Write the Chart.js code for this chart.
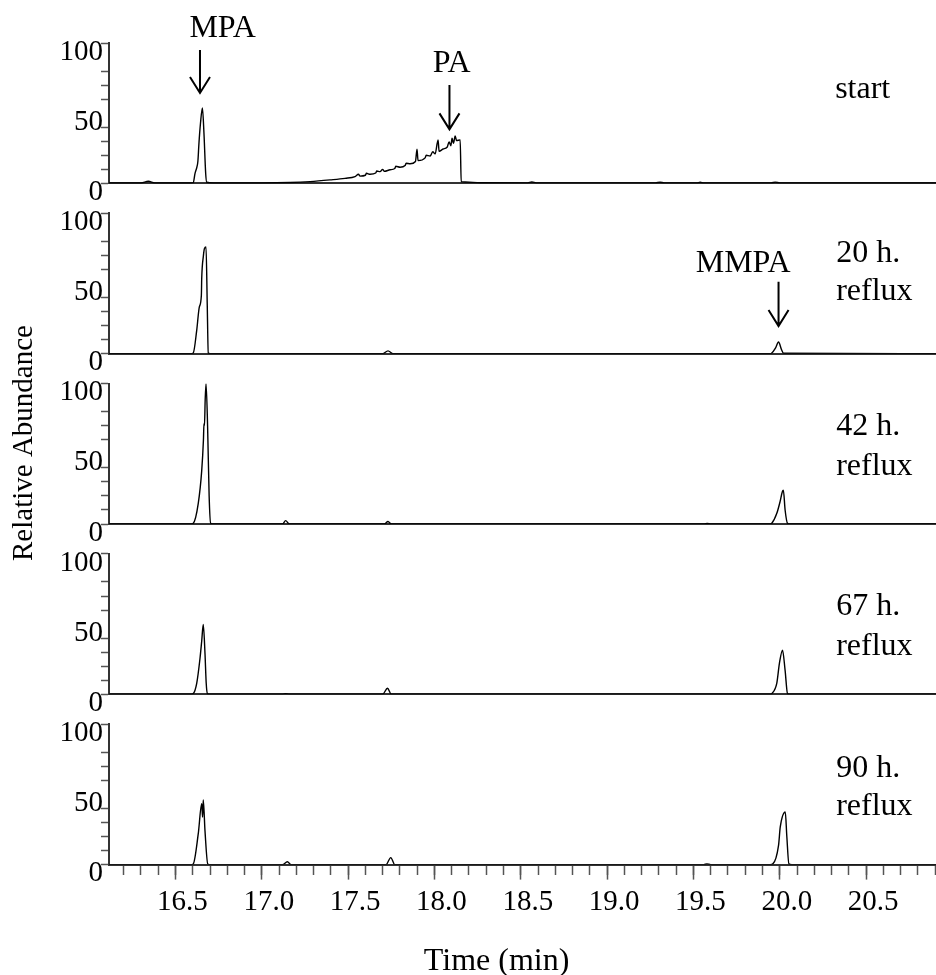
<!DOCTYPE html>
<html lang="en">
<head>
  <meta charset="UTF-8" />
  <title>Chromatograms during reflux</title>
  <script src="https://cdn.jsdelivr.net/npm/chart.js"></script>
  <style>
    body { margin: 0; background: #fff; }
    #wrap { position: relative; width: 936px; height: 975px; }
    #wrap canvas { position: absolute; left: 0; top: 0; }
  </style>
</head>
<body>
  <div id="wrap">
    <canvas id="c0" width="936" height="975"></canvas>
    <canvas id="c1" width="936" height="975"></canvas>
    <canvas id="c2" width="936" height="975"></canvas>
    <canvas id="c3" width="936" height="975"></canvas>
    <canvas id="c4" width="936" height="975"></canvas>
  </div>

  <script>
    // retention time range (min)
    const timeMin = 16.115;
    const timeMax = 20.905;

    // start
    const startTime = [16.115, 16.30, 16.343, 16.38, 16.59, 16.603, 16.613, 16.624, 16.630, 16.636, 16.645, 16.656, 16.665, 16.675, 16.681, 16.72,
      17.00, 17.164, 17.280, 17.395, 17.482, 17.540, 17.560, 17.569, 17.600, 17.606, 17.627, 17.660, 17.666, 17.685, 17.700, 17.710, 17.743,
      17.770, 17.776, 17.801, 17.830, 17.836, 17.859, 17.890, 17.899, 17.905, 17.946, 17.952, 17.975, 17.990, 18.004, 18.021, 18.027,
      18.050, 18.073, 18.085, 18.095, 18.102, 18.110, 18.120, 18.128, 18.149, 18.155, 18.178, 18.265, 18.54, 18.564, 18.59,
      19.28, 19.307, 19.33, 19.52, 19.539, 19.56, 19.95, 19.974, 20.00, 20.905];
    const startAbund = [0.3, 0.3, 1.5, 0.3, 0.3, 0.5, 7, 11.6, 16, 28.6, 43, 53.8, 35.7, 7, 0.8, 0.3,
      0.3, 0.6, 1.3, 2.5, 3.6, 4.8, 6.5, 5.2, 5.8, 7.2, 6.5, 7.4, 8.8, 8.4, 10, 8.6, 9.7,
      10.6, 12.2, 11.5, 12.7, 14.3, 14.0, 15.6, 24.3, 16.2, 18.2, 20.0, 19.5, 22.5, 21.0, 31.0, 22.8,
      24.5, 25.7, 29.5, 26.8, 32.2, 28.5, 33.8, 30.5, 31.0, 1.3, 1.0, 0.5, 0.4, 1.0, 0.4,
      0.4, 0.8, 0.4, 0.4, 0.8, 0.4, 0.4, 0.9, 0.4, 0.3];

    // 20 h reflux
    const h20Time = [16.115, 16.59, 16.603, 16.623, 16.638, 16.650, 16.652, 16.662, 16.668, 16.677, 16.684, 16.690, 16.70,
      17.70, 17.731, 17.76, 19.945, 19.954, 19.975, 19.993, 20.010, 20.022, 20.905];
    const h20Abund = [0, 0, 0.5, 16.6, 33.2, 41.6, 53.5, 70, 75, 76, 35, 0.5, 0,
      0, 2.0, 0, 0, 0.5, 4, 8.3, 3, 0.3, 0];

    // 42 h reflux
    const h42Time = [16.115, 16.59, 16.603, 16.632, 16.652, 16.662, 16.665, 16.668, 16.672, 16.677, 16.686, 16.695, 16.704, 16.72,
      17.12, 17.138, 17.16, 17.71, 17.731, 17.75, 19.56, 19.58, 19.60, 19.945, 19.954, 19.983, 20.002, 20.015, 20.021, 20.031, 20.045, 20.06, 20.905];
    const h42Abund = [0, 0, 0.5, 14.7, 38, 60, 71.4, 70, 88, 100, 70, 20, 0.5, 0,
      0, 2.4, 0, 0, 1.8, 0, 0, 0.4, 0, 0, 0.5, 7.6, 16, 23, 24, 10, 0.5, 0, 0];

    // 67 h reflux
    const h67Time = [16.115, 16.59, 16.603, 16.623, 16.642, 16.652, 16.661, 16.671, 16.678, 16.685, 16.70,
      17.12, 17.138, 17.16, 17.70, 17.728, 17.75, 19.945, 19.954, 19.983, 19.998, 20.016, 20.031, 20.045, 20.06, 20.905];
    const h67Abund = [0, 0, 0.5, 7.8, 25.5, 38, 49.7, 29, 8, 0.5, 0,
      0, 0.5, 0, 0, 4.3, 0, 0, 0.5, 8, 22, 31.4, 17, 0.5, 0, 0];

    // 90 h reflux
    const h90Time = [16.115, 16.59, 16.603, 16.632, 16.652, 16.657, 16.661, 16.671, 16.687, 16.70,
      17.12, 17.148, 17.17, 17.72, 17.747, 17.77, 19.56, 19.578, 19.60, 19.945, 19.960, 19.993, 20.003, 20.032, 20.041, 20.053, 20.07, 20.905];
    const h90Abund = [0, 0, 0.5, 22, 43.3, 33.8, 46, 24, 0.5, 0,
      0, 2, 0, 0, 5, 0, 0, 0.5, 0, 0, 0.5, 13.7, 26.8, 37.5, 20, 0.5, 0, 0];

    const yTicks = [0, 50, 100];
    const xTickLabels = ['16.5', '17.0', '17.5', '18.0', '18.5', '19.0', '19.5', '20.0', '20.5'];

    const serif = "'Liberation Serif', 'Times New Roman', serif";
    const panelTop = [43, 213.3, 383.6, 553.9, 724.2];
    const panelH = 140.4;
    const xAxisH = 110.4;

    // labels + arrows, placed in data units of each panel
    const notes = [
      [
        { text: 'MPA', t: 16.773, v: 104.3, align: 'center' },
        { arrow: true, t: 16.642, from: 95, to: 64.4 },
        { text: 'PA', t: 18.100, v: 79.3, align: 'center' },
        { arrow: true, t: 18.087, from: 70.1, to: 38.5 },
        { text: 'start', t: 20.321, v: 60.6, align: 'left' }
      ],
      [
        { text: 'MMPA', t: 19.788, v: 58.4, align: 'center' },
        { arrow: true, t: 19.993, from: 51.3, to: 19.7 },
        { text: '20 h.', t: 20.327, v: 65.5, align: 'left' },
        { text: 'reflux', t: 20.327, v: 38.3, align: 'left' }
      ],
      [
        { text: '42 h.', t: 20.327, v: 63.4, align: 'left' },
        { text: 'reflux', t: 20.327, v: 34.9, align: 'left' }
      ],
      [
        { text: '67 h.', t: 20.327, v: 56.5, align: 'left' },
        { text: 'reflux', t: 20.327, v: 28.0, align: 'left' }
      ],
      [
        { text: '90 h.', t: 20.327, v: 62.6, align: 'left' },
        { text: 'reflux', t: 20.327, v: 35.3, align: 'left' },
        { text: 'Time (min)', t: 18.360, v: -75.1, align: 'center' }
      ]
    ];

    const series = [
      [startTime, startAbund],
      [h20Time, h20Abund],
      [h42Time, h42Abund],
      [h67Time, h67Abund],
      [h90Time, h90Abund]
    ];

    function notesPlugin(items, withYTitle) {
      return {
        id: 'notes',
        afterDraw(chart) {
          const { ctx, scales: { x, y } } = chart;
          ctx.save();
          ctx.fillStyle = '#000';
          ctx.strokeStyle = '#000';
          ctx.lineWidth = 2;
          ctx.font = '32px ' + serif;
          ctx.textBaseline = 'alphabetic';
          items.forEach(it => {
            const px = x.getPixelForValue(it.t);
            if (it.arrow) {
              const y1 = y.getPixelForValue(it.from);
              const y2 = y.getPixelForValue(it.to);
              ctx.beginPath();
              ctx.moveTo(px, y1);
              ctx.lineTo(px, y2);
              ctx.moveTo(px - 10, y2 - 16);
              ctx.lineTo(px, y2);
              ctx.lineTo(px + 10, y2 - 16);
              ctx.stroke();
            } else {
              ctx.textAlign = it.align;
              ctx.fillText(it.text, px, y.getPixelForValue(it.v));
            }
          });
          if (withYTitle) {
            ctx.translate(32, 443);
            ctx.rotate(-Math.PI / 2);
            ctx.textAlign = 'center';
            ctx.font = '29px ' + serif;
            ctx.fillText('Relative Abundance', 0, 0);
          }
          ctx.restore();
        }
      };
    }

    series.forEach(([times, values], i) => {
      const last = i === series.length - 1;
      const top = panelTop[i];
      const bottomPad = 975 - (top + panelH) - (last ? xAxisH : 0);

      const scales = {
        y: {
          min: 0, max: 100,
          afterFit: s => { s.width = 109; },
          border: { color: '#333', width: 2 },
          grid: {
            drawOnChartArea: false, tickLength: 8, tickWidth: 1.5,
            color: c => (c.tick && (c.tick.value === 50 || c.tick.value === 90)) ? 'rgba(0,0,0,0)' : '#555'
          },
          ticks: {
            stepSize: 10, autoSkip: false, padding: -2, labelOffset: 9, color: '#000',
            font: { family: serif, size: 29 },
            callback: v => yTicks.includes(v) ? String(v) : ''
          }
        }
      };

      if (last) {
        scales.x = {
          type: 'linear', min: timeMin, max: timeMax,
          afterFit: s => { s.height = xAxisH; },
          border: { color: '#333', width: 2 },
          grid: { drawOnChartArea: false, tickLength: 15, tickWidth: 1.5, color: '#555' },
          ticks: {
            stepSize: 0.5, includeBounds: false, autoSkip: false, maxRotation: 0,
            padding: 5, labelOffset: 7, color: '#000',
            font: { family: serif, size: 29 },
            callback: v => xTickLabels.includes(v.toFixed(1)) ? v.toFixed(1) : ''
          }
        };
        scales.x2 = {
          type: 'linear', axis: 'x', position: { y: 0 }, min: timeMin, max: timeMax,
          border: { display: false },
          grid: { drawOnChartArea: false, tickLength: 10, tickWidth: 1.5, color: '#555' },
          ticks: { display: false, stepSize: 0.1, includeBounds: false, autoSkip: false }
        };
      } else {
        scales.x = {
          type: 'linear', min: timeMin, max: timeMax,
          afterFit: s => { s.height = 0; },
          border: { color: '#333', width: 2 },
          grid: { display: false },
          ticks: { display: false }
        };
      }

      new Chart(document.getElementById('c' + i), {
        type: 'line',
        data: {
          datasets: [{
            data: times.map((t, k) => ({ x: t, y: values[k] })),
            borderColor: '#000',
            borderWidth: 1.4,
            pointRadius: 0,
            fill: false,
            cubicInterpolationMode: 'monotone'
          }]
        },
        options: {
          responsive: false,
          animation: false,
          layout: { padding: { top: top, bottom: bottomPad, left: 0, right: 0 } },
          plugins: { legend: { display: false }, tooltip: { enabled: false } },
          scales
        },
        plugins: [notesPlugin(notes[i], i === 2)]
      });
    });
  </script>
</body>
</html>
